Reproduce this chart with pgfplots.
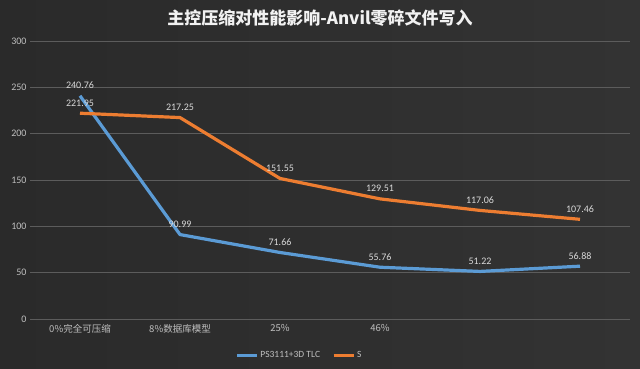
\documentclass[border=0pt]{standalone}
\usepackage{pgfplots}
\pgfplotsset{compat=1.18}
\usepackage{fontspec}
\setmainfont{Carlito}
\newfontfamily\cjk{Noto Sans CJK SC}
\definecolor{bgedge}{HTML}{2A2A2A}
\definecolor{bgmid}{HTML}{494949}
\definecolor{bgright}{HTML}{333333}
\definecolor{gridc}{HTML}{5C5C5C}
\definecolor{tickc}{HTML}{BFBFBF}
\definecolor{labc}{HTML}{D9D9D9}
\definecolor{sblue}{HTML}{5B9BD5}
\definecolor{sorange}{HTML}{ED7D31}
\begin{document}
\begin{tikzpicture}[x=1pt,y=1pt]
\useasboundingbox (0,0) rectangle (640,368);
\shade[left color=bgedge, middle color=bgmid, right color=bgright] (0,0) rectangle (640,368);
\node[text=white!95!black, font=\cjk\bfseries\fontsize{17}{20}\selectfont] at (320,350) {主控压缩对性能影响-Anvil零碎文件写入};
\begin{axis}[
  at={(30,53)}, anchor=south west,
  scale only axis, width=600pt, height=278pt,
  xmin=-0.5, xmax=5.5, ymin=0, ymax=300,
  ytick={0,50,...,300},
  xtick={0,1,2,3,4,5},
  xticklabels={{0\%完全可压缩},{8\%数据库模型},{25\%},{46\%},{},{}},
  x tick label style={font=\cjk\fontsize{9.5}{11}\selectfont, text=tickc, yshift=-2pt},
  y tick label style={font=\fontsize{10}{12}\selectfont, text=tickc},
  /pgf/number format/assume math mode=true,
  ymajorgrids, grid style={color=gridc, line width=0.7pt},
  axis line style={draw=none},
  major tick length=0pt,
  clip=false,
  nodes near coords,
  point meta=explicit symbolic,
  nodes near coords style={font=\fontsize{10}{12}\selectfont, text=labc, anchor=south, yshift=2pt},
  legend style={draw=none, fill=none, at={(0.337,-0.13)}, anchor=west,
    legend columns=2, font=\fontsize{9.5}{11}\selectfont, text=tickc,
    /tikz/every even column/.append style={column sep=10pt}},
  legend image code/.code={\draw[#1, line width=3pt] (0pt,0pt) -- (20pt,0pt);},
]
\addplot[sblue, line width=3.2pt, line join=round] coordinates {
  (0,240.76) [240.76]
  (1,90.99) [90.99]
  (2,71.66) [71.66]
  (3,55.76) [55.76]
  (4,51.22) [51.22]
  (5,56.88) [56.88]
};
\addlegendentry{PS3111+3D TLC}
\addplot[sorange, line width=3.2pt, line join=round] coordinates {
  (0,221.95) [221.95]
  (1,217.25) [217.25]
  (2,151.55) [151.55]
  (3,129.51) [129.51]
  (4,117.06) [117.06]
  (5,107.46) [107.46]
};
\addlegendentry{S}
\end{axis}
\end{tikzpicture}
\end{document}
